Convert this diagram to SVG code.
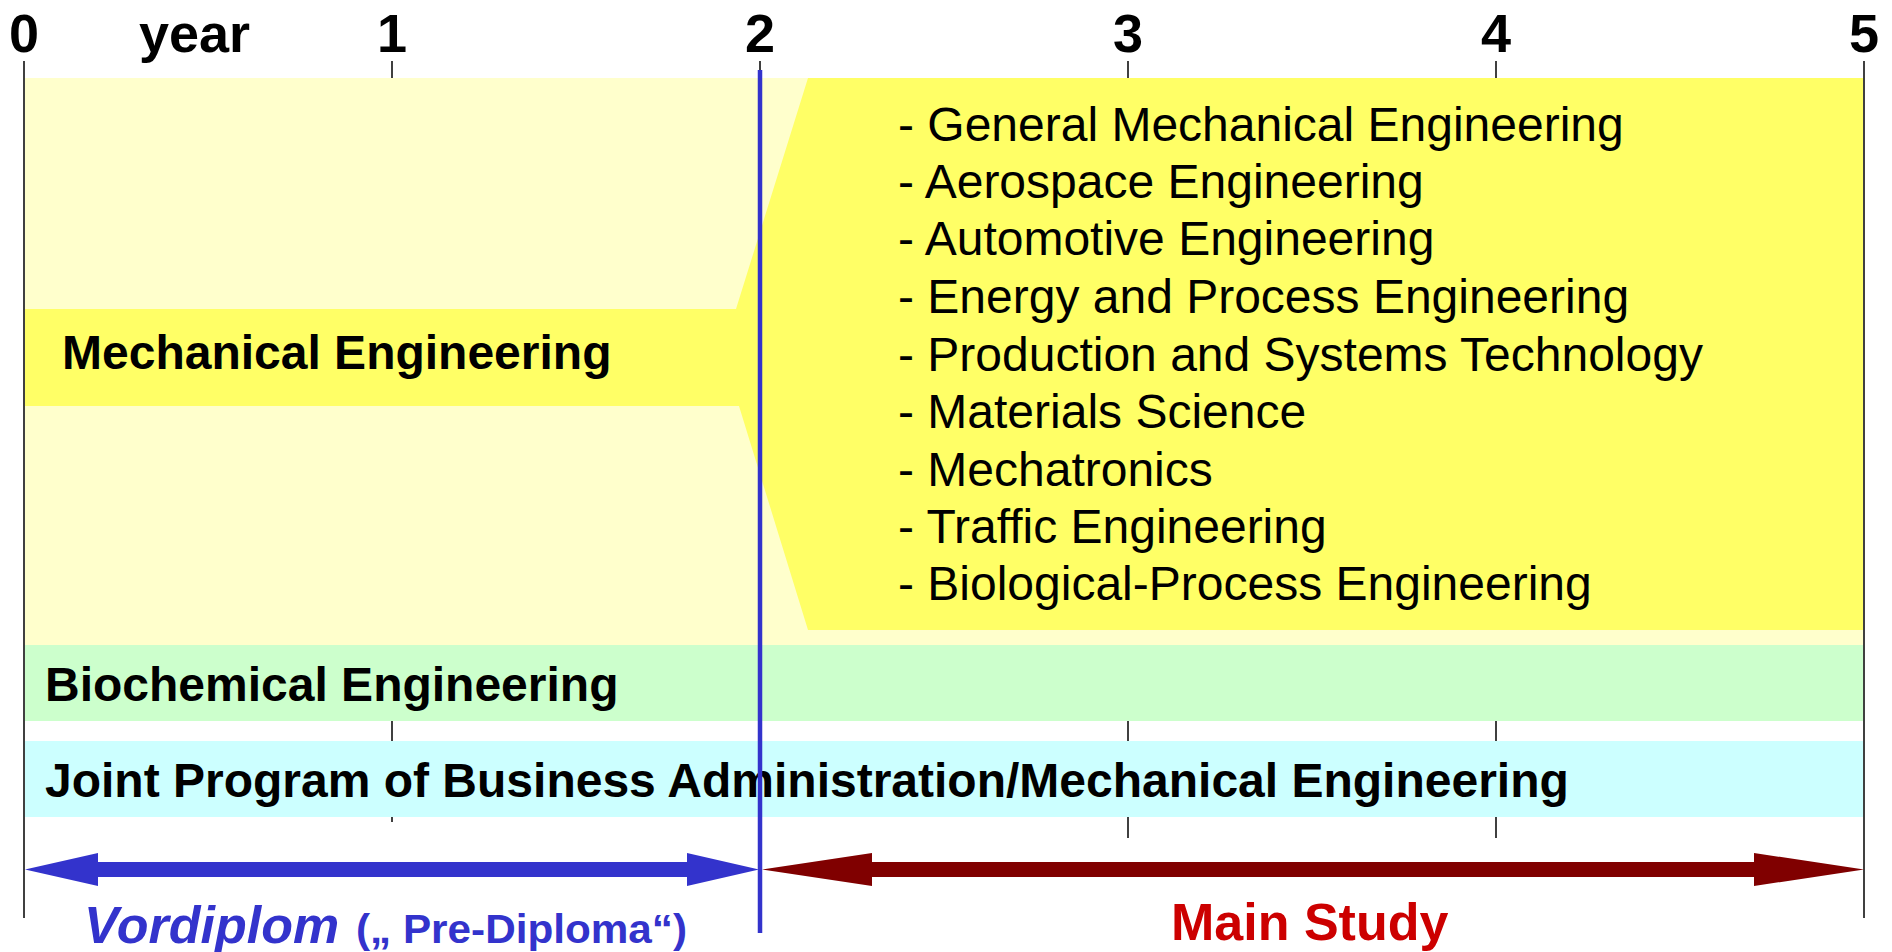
<svg xmlns="http://www.w3.org/2000/svg" width="1892" height="952" viewBox="0 0 1892 952">
  <style>
    .tick { stroke: #000; stroke-width: 1.5; fill: none; }
    .yr { font-family: "Liberation Sans", Arial, sans-serif; font-weight: bold; font-size: 54px; fill: #000; text-anchor: middle; }
    .lbl { font-family: "Liberation Sans", Arial, sans-serif; font-weight: bold; font-size: 48px; fill: #000; }
    .item { font-family: "Liberation Sans", Arial, sans-serif; font-size: 48px; fill: #000; }
    .blue { font-family: "Liberation Sans", Arial, sans-serif; font-weight: bold; fill: #3333CC; }
  </style>
  <rect width="1892" height="952" fill="#FFFFFF"/>

  <g id="axis">
    <line class="tick" x1="392" y1="61" x2="392" y2="822"/>
    <line class="tick" x1="760" y1="61" x2="760" y2="80"/>
    <line class="tick" x1="1128" y1="61" x2="1128" y2="838"/>
    <line class="tick" x1="1496" y1="61" x2="1496" y2="838"/>
    <text class="yr" x="24" y="52">0</text>
    <text class="yr" x="139" y="52" style="text-anchor:start">year</text>
    <text class="yr" x="392" y="52">1</text>
    <text class="yr" x="760" y="52">2</text>
    <text class="yr" x="1128" y="52">3</text>
    <text class="yr" x="1496" y="52">4</text>
    <text class="yr" x="1864" y="52">5</text>
  </g>

  <g id="mechanical-engineering">
    <rect x="25" y="78" width="1838" height="567" fill="#FFFFCC"/>
    <polygon points="808,78 1863,78 1863,630 808,630 739,406 25,406 25,309 736,309" fill="#FFFF66"/>
    <text class="lbl" x="62" y="369">Mechanical Engineering</text>
    <g>
      <text class="item" x="898" y="141">- General Mechanical Engineering</text>
      <text class="item" x="898" y="198">- Aerospace Engineering</text>
      <text class="item" x="898" y="255">- Automotive Engineering</text>
      <text class="item" x="898" y="313">- Energy and Process Engineering</text>
      <text class="item" x="898" y="371">- Production and Systems Technology</text>
      <text class="item" x="898" y="428">- Materials Science</text>
      <text class="item" x="898" y="486">- Mechatronics</text>
      <text class="item" x="898" y="543">- Traffic Engineering</text>
      <text class="item" x="898" y="600">- Biological-Process Engineering</text>
    </g>
  </g>

  <g id="biochemical-engineering">
    <rect x="25" y="645" width="1838" height="76" fill="#CCFFCC"/>
    <text class="lbl" x="45" y="701">Biochemical Engineering</text>
  </g>

  <g id="joint-program">
    <rect x="25" y="741" width="1838" height="76" fill="#CCFFFF"/>
    <text class="lbl" x="45" y="797">Joint Program of Business Administration/Mechanical Engineering</text>
  </g>

  <g id="frame-lines">
    <line class="tick" x1="24" y1="61" x2="24" y2="918"/>
    <line class="tick" x1="1864" y1="61" x2="1864" y2="918"/>
  </g>

  <g id="connectors">
    <polygon id="vordiplom-arrow" points="25,869.5 98,853 98,862 687,862 687,853 759,869.5 687,886 687,877 98,877 98,886" fill="#3333CC"/>
    <polygon id="main-study-arrow" points="762,869.5 872,853 872,862 1754,862 1754,853 1864,869.5 1754,886 1754,877 872,877 872,886" fill="#800000"/>
    <line id="divider" x1="760" y1="70" x2="760" y2="933" stroke="#3333CC" stroke-width="4.5"/>
  </g>

  <g id="vordiplom-label">
    <text class="blue" x="84" y="943" font-size="52" font-style="italic">Vordiplom</text>
    <text class="blue" x="356" y="943" font-size="40" textLength="331" lengthAdjust="spacingAndGlyphs">(„ Pre-Diploma“)</text>
  </g>

  <g id="main-study-label">
    <text x="1171" y="940" font-family="Liberation Sans, Arial, sans-serif" font-weight="bold" font-size="52" fill="#CC0000">Main Study</text>
  </g>
</svg>
